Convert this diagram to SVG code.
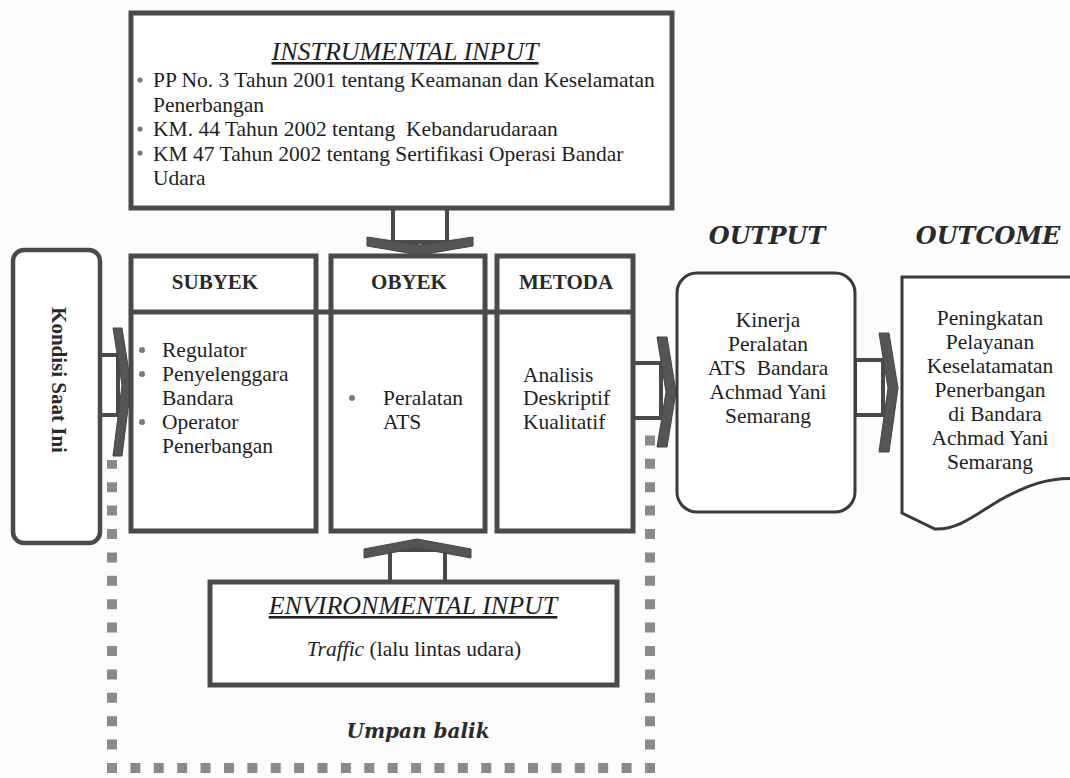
<svg xmlns="http://www.w3.org/2000/svg" width="1070" height="778" viewBox="0 0 1070 778">
<style>
.box{fill:#fff;stroke:#4a4a4a;stroke-width:5}
.thin{fill:#fff;stroke:#3a3a3a;stroke-width:3}
.t{font-family:"Liberation Serif","Times New Roman",serif;font-size:21.5px;fill:#1e1e1e;white-space:pre}
.c{text-anchor:middle}
.hd{font-family:"Liberation Serif","Times New Roman",serif;font-size:21px;font-weight:bold;fill:#2a2a2a;text-anchor:middle}
.ttl{font-family:"Liberation Serif","Times New Roman",serif;font-style:italic;font-size:26px;fill:#1e1e1e;text-anchor:middle;text-decoration:underline}
.lbl{font-family:"DejaVu Serif",serif;font-style:italic;font-weight:bold;fill:#2a2a2a;text-anchor:middle}
.bul{fill:#7a7a7a}
.shaft{fill:#fff;stroke:#4a4a4a;stroke-width:4}
.chev{fill:#555;stroke:#444;stroke-width:1}
.dots{fill:none;stroke:#8a8a8a;stroke-width:10}
</style>
<rect width="1070" height="778" fill="#fcfcfc"/>

<g id="connectors">
  <!-- instrumental input -> obyek -->
  <rect class="shaft" x="393" y="206" width="54" height="36"/>
  <polygon class="chev" points="367,237 420,245 473,237 473,246 420,255 367,246"/>
  <!-- environmental input -> obyek -->
  <rect class="shaft" x="390" y="550" width="55" height="34"/>
  <polygon class="chev" points="364,549 417,539 471,549 471,558 417,548 364,558"/>
  <!-- kondisi -> subyek -->
  <rect class="shaft" x="98" y="355" width="20" height="60"/>
  <polygon class="chev" points="113,328 122,328 131,385 122,456 113,456 122,385"/>
  <!-- metoda -> output -->
  <rect class="shaft" x="633" y="363" width="28" height="55"/>
  <polygon class="chev" points="657,337 667,337 676,392 667,447 657,447 666,392"/>
  <!-- output -> outcome -->
  <rect class="shaft" x="855" y="360" width="28" height="55"/>
  <polygon class="chev" points="879,333 889,333 898,388 889,452 879,452 888,388"/>
  <!-- feedback (umpan balik) -->
  <path class="dots" d="M650 773 L650 432" stroke-dasharray="10 13.4"/>
  <path class="dots" d="M107 768 L655 768" stroke-dasharray="10 13.39"/>
  <path class="dots" d="M112 773 L112 460" stroke-dasharray="10 13.4"/>
  <text class="lbl" x="418" y="738" font-size="20">Umpan balik</text>
</g>

<g id="instrumental-input">
  <rect class="box" x="131" y="13" width="541" height="195"/>
  <text class="ttl" x="405" y="60">INSTRUMENTAL INPUT</text>
  <circle class="bul" cx="140" cy="80" r="2.6"/>
  <circle class="bul" cx="140" cy="129" r="2.6"/>
  <circle class="bul" cx="140" cy="153" r="2.6"/>
  <text class="t" x="153" y="87">PP No. 3 Tahun 2001 tentang Keamanan dan Keselamatan</text>
  <text class="t" x="153" y="111.5">Penerbangan</text>
  <text class="t" x="153" y="136">KM. 44 Tahun 2002 tentang  Kebandarudaraan</text>
  <text class="t" x="153" y="160.5">KM 47 Tahun 2002 tentang Sertifikasi Operasi Bandar</text>
  <text class="t" x="153" y="185">Udara</text>
</g>

<g id="kondisi-saat-ini">
  <rect x="13" y="250" width="87" height="293" rx="11" fill="#fff" stroke="#4a4a4a" stroke-width="4.5"/>
  <text class="hd" font-size="22" transform="translate(59,380) rotate(90)" dominant-baseline="central">Kondisi Saat Ini</text>
</g>

<g id="subyek">
  <rect class="box" x="131" y="256" width="185" height="275"/>
  <line x1="131" y1="312" x2="316" y2="312" stroke="#4a4a4a" stroke-width="5"/>
  <text class="hd" x="215" y="289">SUBYEK</text>
  <circle class="bul" cx="142" cy="350" r="3"/>
  <circle class="bul" cx="142" cy="374" r="3"/>
  <circle class="bul" cx="142" cy="422" r="3"/>
  <text class="t" x="162" y="357">Regulator</text>
  <text class="t" x="162" y="381">Penyelenggara</text>
  <text class="t" x="162" y="405">Bandara</text>
  <text class="t" x="162" y="429">Operator</text>
  <text class="t" x="162" y="453">Penerbangan</text>
</g>

<g id="obyek">
  <rect class="box" x="331" y="256" width="154" height="275"/>
  <line x1="316" y1="312" x2="497" y2="312" stroke="#4a4a4a" stroke-width="5"/>
  <text class="hd" x="409" y="289">OBYEK</text>
  <circle class="bul" cx="352" cy="398" r="3"/>
  <text class="t" x="383" y="405">Peralatan</text>
  <text class="t" x="383" y="429">ATS</text>
</g>

<g id="metoda">
  <rect class="box" x="497" y="256" width="136" height="275"/>
  <line x1="497" y1="312" x2="633" y2="312" stroke="#4a4a4a" stroke-width="5"/>
  <text class="hd" x="566" y="289">METODA</text>
  <text class="t" x="523" y="382">Analisis</text>
  <text class="t" x="523" y="405">Deskriptif</text>
  <text class="t" x="523" y="429">Kualitatif</text>
</g>

<g id="environmental-input">
  <rect class="box" x="210" y="582" width="407" height="103"/>
  <text class="ttl" x="413" y="614">ENVIRONMENTAL INPUT</text>
  <text class="t c" x="414" y="656" font-size="23"><tspan font-style="italic">Traffic</tspan> (lalu lintas udara)</text>
</g>

<g id="output">
  <text class="lbl" x="767" y="244" font-size="24">OUTPUT</text>
  <rect class="thin" x="677" y="273" width="178" height="239" rx="20"/>
  <text class="t c" x="768" y="327">Kinerja</text>
  <text class="t c" x="768" y="351">Peralatan</text>
  <text class="t c" x="768" y="375">ATS  Bandara</text>
  <text class="t c" x="768" y="399">Achmad Yani</text>
  <text class="t c" x="768" y="423">Semarang</text>
</g>

<g id="outcome">
  <text class="lbl" x="988" y="244" font-size="24">OUTCOME</text>
  <path class="thin" d="M902 277 L1080 277 L1080 479 C1050 476 1025 486 1000 500 C975 515 958 530 935 529 L902 513 Z"/>
  <text class="t c" x="990" y="325">Peningkatan</text>
  <text class="t c" x="990" y="349">Pelayanan</text>
  <text class="t c" x="990" y="373">Keselatamatan</text>
  <text class="t c" x="990" y="397">Penerbangan</text>
  <text class="t c" x="995" y="421">di Bandara</text>
  <text class="t c" x="990" y="445">Achmad Yani</text>
  <text class="t c" x="990" y="469">Semarang</text>
</g>
</svg>
